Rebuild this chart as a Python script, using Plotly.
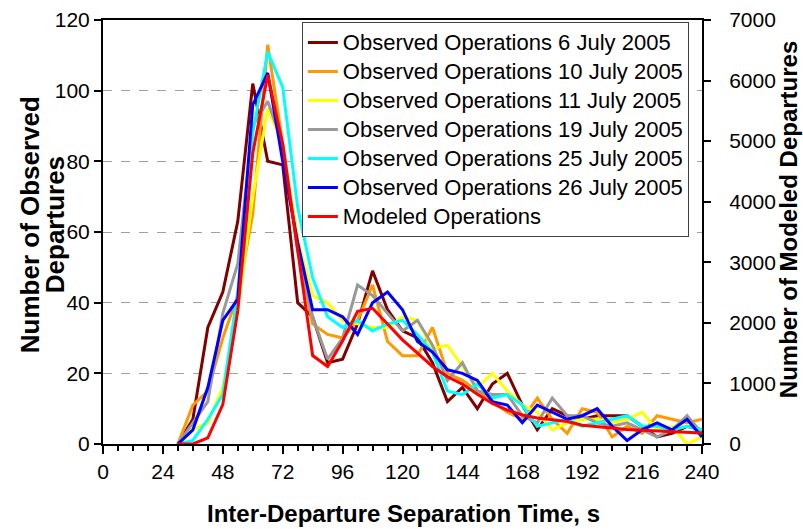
import plotly.graph_objects as go

time_s = [30, 36, 42, 48, 54, 60, 66, 72, 78, 84, 90, 96, 102, 108, 114, 120, 126, 132,
          138, 144, 150, 156, 162, 168, 174, 180, 186, 192, 198, 204, 210, 216, 222, 228, 234, 240]

obs_0706 = [0, 7, 33, 43, 63, 102, 80, 79, 40, 36, 23, 24, 34, 49, 38, 32, 30, 23,
            12, 16, 10, 17, 20, 11, 4, 10, 8, 7, 8, 8, 8, 5, 2, 3, 5, 4]
obs_0710 = [0, 11, 15, 30, 42, 65, 113, 85, 55, 34, 31, 30, 35, 45, 29, 25, 25, 33,
            20, 18, 15, 12, 9, 7, 13, 7, 3, 10, 9, 2, 5, 3, 8, 7, 6, 7]
obs_0711 = [0, 4, 6, 16, 38, 70, 95, 85, 58, 42, 40, 35, 34, 33, 33, 36, 35, 27,
            28, 22, 16, 20, 15, 11, 9, 4, 6, 7, 7, 6, 7, 9, 4, 5, 0, 2]
obs_0719 = [0, 6, 12, 37, 51, 90, 97, 85, 55, 36, 24, 30, 45, 42, 37, 32, 35, 28,
            18, 23, 15, 14, 14, 8, 6, 13, 8, 8, 6, 5, 6, 4, 2, 4, 8, 3]
obs_0725 = [0, 1, 7, 14, 43, 88, 111, 101, 67, 47, 36, 33, 35, 32, 34, 35, 31, 26,
            15, 14, 17, 13, 14, 11, 5, 6, 7, 5, 6, 7, 8, 5, 5, 4, 5, 4]
obs_0726 = [0, 4, 16, 35, 41, 96, 105, 80, 57, 38, 38, 36, 31, 40, 43, 38, 29, 26,
            21, 20, 18, 12, 11, 6, 11, 9, 7, 8, 10, 5, 1, 4, 6, 4, 7, 2]
modeled = [0, 0, 100, 650, 2200, 4800, 6090, 4950, 3200, 1460, 1280, 1700, 2190, 2240,
           1980, 1720, 1500, 1280, 1110, 990, 820, 670, 560, 480, 430, 400, 370, 310,
           285, 260, 240, 225, 215, 200, 195, 180]

series_names = ["Observed Operations 6 July 2005", "Observed Operations 10 July 2005",
                "Observed Operations 11 July 2005", "Observed Operations 19 July 2005",
                "Observed Operations 25 July 2005", "Observed Operations 26 July 2005"]
series_values = [obs_0706, obs_0710, obs_0711, obs_0719, obs_0725, obs_0726]
series_colors = ["#800000", "#FF9900", "#FFFF00", "#999999", "#00FFFF", "#0000FF"]
modeled_name = "Modeled Operations"


def legend_label(text):
    return "<span style='font-size:22px'>" + text + "</span>"


fig = go.Figure()
for name, vals, col in zip(series_names, series_values, series_colors):
    fig.add_trace(go.Scatter(x=time_s, y=vals, name=legend_label(name), mode="lines",
                             line=dict(color=col, width=3)))
fig.add_trace(go.Scatter(x=time_s, y=modeled, name=legend_label(modeled_name), mode="lines",
                         line=dict(color="#FF0000", width=3), yaxis="y2"))

font_family = "Liberation Sans, Arial, sans-serif"
fig.update_layout(
    width=803, height=529,
    margin=dict(l=103, r=101, t=20, b=85, autoexpand=False),
    paper_bgcolor="white", plot_bgcolor="white",
    font=dict(family=font_family, size=21, color="black"),
    showlegend=True,
    legend=dict(x=0.332, y=0.995, xanchor="left", yanchor="top",
                bgcolor="white", bordercolor="#404040", borderwidth=1,
                font=dict(size=20), tracegroupgap=0),
    xaxis=dict(range=[0, 240], tick0=0, dtick=24, ticks="outside", ticklen=8,
               tickwidth=1.5, tickcolor="black", automargin=False,
               minor=dict(dtick=6, ticks="outside", ticklen=5, tickcolor="black", tickwidth=1.5),
               showline=True, linecolor="black", linewidth=2, mirror=True,
               showgrid=False, zeroline=False),
    yaxis=dict(range=[0, 120], dtick=20, ticks="outside", ticklen=7, tickwidth=1.5,
               tickcolor="black", showline=True, linecolor="black", linewidth=2,
               showgrid=True, gridcolor="#A0A0A0", griddash="dash", gridwidth=1,
               zeroline=False, automargin=False),
    yaxis2=dict(range=[0, 7000], dtick=1000, overlaying="y", side="right",
                ticks="outside", ticklen=7, tickwidth=1.5, tickcolor="black",
                showline=True, linecolor="black", linewidth=2, showgrid=False,
                zeroline=False, automargin=False, ticklabelstandoff=14),
)

title_font = dict(family=font_family, color="black")
fig.add_annotation(text="<b>Inter-Departure Separation Time, s</b>", xref="paper", yref="paper",
                   x=0.5025, y=-0.165, xanchor="center", yanchor="middle", showarrow=False,
                   font=dict(size=24, **title_font))
fig.add_annotation(text="<b>Number of Observed</b>", xref="paper", yref="paper",
                   x=(30 - 103) / 599, y=0.516, xanchor="center", yanchor="middle",
                   textangle=-90, showarrow=False, font=dict(size=26, **title_font))
fig.add_annotation(text="<b>Departures</b>", xref="paper", yref="paper",
                   x=(55 - 103) / 599, y=0.516, xanchor="center", yanchor="middle",
                   textangle=-90, showarrow=False, font=dict(size=26, **title_font))
fig.add_annotation(text="<b>Number of Modeled Departures</b>", xref="paper", yref="paper",
                   x=(788 - 103) / 599, y=0.528, xanchor="center", yanchor="middle",
                   textangle=-90, showarrow=False, font=dict(size=24, **title_font))

fig.write_html("out.html", config={"displayModeBar": False},
               post_script="document.body.style.margin='0';")
